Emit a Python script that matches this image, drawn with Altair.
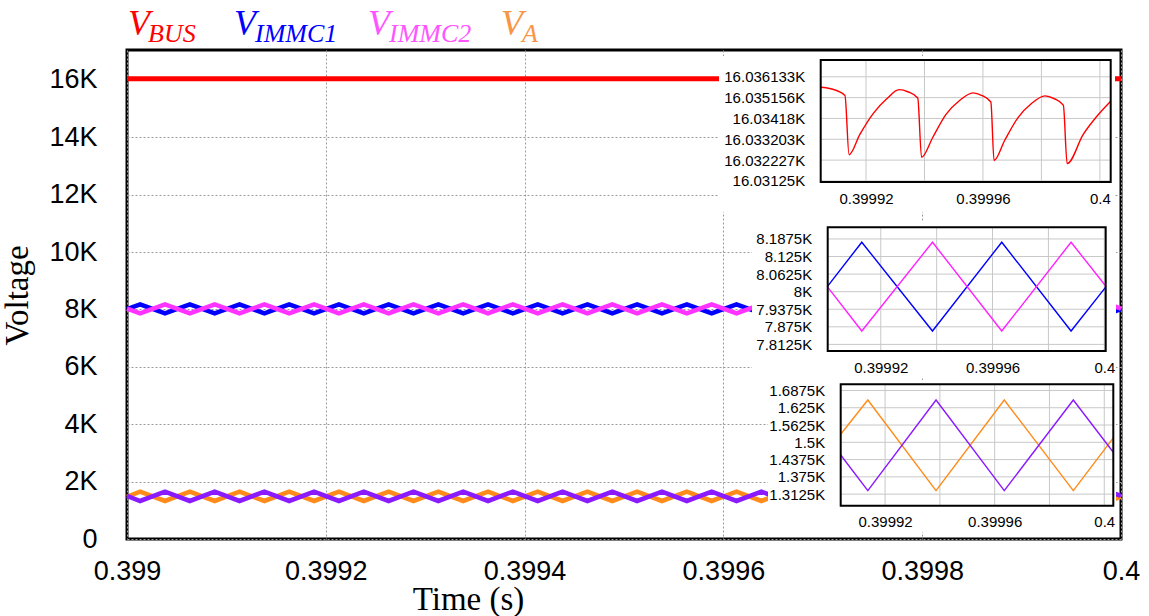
import altair as alt
import pandas as pd

# ---------------- main plot values ----------------
main_xticks = [0.399, 0.3992, 0.3994, 0.3996, 0.3998, 0.4]
main_yticks = [0, 2000, 4000, 6000, 8000, 10000, 12000, 14000, 16000]

bus_t = [0.399, 0.3995, 0.4]
bus_v = [16034, 16034, 16034]

main_t = [0.399,
          0.3990132, 0.3990382, 0.3990632, 0.3990882,
          0.3991132, 0.3991382, 0.3991632, 0.3991882,
          0.3992132, 0.3992382, 0.3992632, 0.3992882,
          0.3993132, 0.3993382, 0.3993632, 0.3993882,
          0.3994132, 0.3994382, 0.3994632, 0.3994882,
          0.3995132, 0.3995382, 0.3995632, 0.3995882,
          0.3996132, 0.3996382, 0.3996632, 0.3996882,
          0.3997132, 0.3997382, 0.3997632, 0.3997882,
          0.3998132, 0.3998382, 0.3998632, 0.3998882,
          0.3999132, 0.3999382, 0.3999632, 0.3999882,
          0.4]
immc1_v = [8009,
           8176, 7860, 8176, 7860, 8176, 7860, 8176, 7860,
           8176, 7860, 8176, 7860, 8176, 7860, 8176, 7860,
           8176, 7860, 8176, 7860, 8176, 7860, 8176, 7860,
           8176, 7860, 8176, 7860, 8176, 7860, 8176, 7860,
           8176, 7860, 8176, 7860, 8176, 7860, 8176, 7860,
           8009]
immc2_v = [8027,
           7860, 8176, 7860, 8176, 7860, 8176, 7860, 8176,
           7860, 8176, 7860, 8176, 7860, 8176, 7860, 8176,
           7860, 8176, 7860, 8176, 7860, 8176, 7860, 8176,
           7860, 8176, 7860, 8176, 7860, 8176, 7860, 8176,
           7860, 8176, 7860, 8176, 7860, 8176, 7860, 8176,
           8027]
va_v = [1473,
        1653, 1325, 1653, 1325, 1653, 1325, 1653, 1325,
        1653, 1325, 1653, 1325, 1653, 1325, 1653, 1325,
        1653, 1325, 1653, 1325, 1653, 1325, 1653, 1325,
        1653, 1325, 1653, 1325, 1653, 1325, 1653, 1325,
        1653, 1325, 1653, 1325, 1653, 1325, 1653, 1325,
        1473]
vb_v = [1505,
        1325, 1653, 1325, 1653, 1325, 1653, 1325, 1653,
        1325, 1653, 1325, 1653, 1325, 1653, 1325, 1653,
        1325, 1653, 1325, 1653, 1325, 1653, 1325, 1653,
        1325, 1653, 1325, 1653, 1325, 1653, 1325, 1653,
        1325, 1653, 1325, 1653, 1325, 1653, 1325, 1653,
        1505]

legend_main = ["V", "V", "V", "V"]
legend_sub = ["BUS", "IMMC1", "IMMC2", "A"]

# ---------------- inset values ----------------
inset_xlabels = [0.39992, 0.39996, 0.4]
inset_xgrid = [0.39992, 0.39994, 0.39996, 0.39998, 0.4]

ins1_t = [0.3999045, 0.3999083, 0.3999128, 0.3999142, 0.3999179, 0.3999225, 0.3999271,
          0.3999313, 0.3999345, 0.3999377, 0.3999390, 0.3999429, 0.3999473, 0.3999520,
          0.3999566, 0.3999597, 0.3999627, 0.3999638, 0.3999675, 0.3999720, 0.3999766,
          0.3999812, 0.3999843, 0.3999875, 0.3999888, 0.3999943, 0.3999989, 0.4000037]
ins1_v = [16035.64, 16035.56, 16035.26, 16032.48, 16033.43, 16034.42, 16035.10,
          16035.53, 16035.42, 16035.14, 16032.36, 16033.31, 16034.36, 16035.02,
          16035.38, 16035.25, 16034.95, 16032.21, 16033.17, 16034.22, 16034.88,
          16035.24, 16035.11, 16034.80, 16032.06, 16033.43, 16034.27, 16034.99]
ins1_yticks = [16031.25, 16032.2265625, 16033.203125, 16034.1796875, 16035.15625, 16036.1328125]

ins2_t = [0.399901, 0.3999132, 0.3999385, 0.3999633, 0.3999881, 0.4000005]
ins2_immc1 = [8020, 8176, 7860, 8176, 7860, 8016]
ins2_immc2 = [8016, 7860, 8176, 7860, 8176, 8020]
ins2_yticks = [7812.5, 7875, 7937.5, 8000, 8062.5, 8125, 8187.5]

ins3_t = [0.3999038, 0.3999137, 0.3999386, 0.3999635, 0.3999887, 0.4000033]
ins3_va = [1529, 1653, 1325, 1653, 1325, 1516]
ins3_vb = [1454, 1325, 1653, 1325, 1653, 1464]
ins3_yticks = [1312.5, 1375, 1437.5, 1500, 1562.5, 1625, 1687.5]

# ---------------- styling ----------------
RED = "#FF0000"
BLUE = "#0000FF"
PINK = "#FF33FF"
ORANGE = "#FF8C1A"
PURPLE = "#8A1AFF"
W, H = 994, 489


def main_xs():
    return alt.Scale(domain=[0.399, 0.4], nice=False, zero=False)


def main_ys():
    return alt.Scale(domain=[0, 17040], nice=False, zero=False)


main_x_axis = alt.Axis(
    orient="bottom", values=main_xticks, format="~g", labelFlush=False, labelOverlap=False,
    labelFontSize=27, labelPadding=19, labelFont="Liberation Sans", labelColor="black",
    ticks=False, domain=False,
    grid=True, gridDash=[2, 2], gridColor="#9a9a9a", gridWidth=1,
    title="Time (s)", titleFont="Liberation Serif", titleFontSize=33, titleFontWeight="normal",
    titleX=341, titleY=70, titleBaseline="alphabetic", titleAlign="center", titleColor="black")
main_y_axis = alt.Axis(
    orient="left", values=main_yticks,
    labelExpr="datum.value == 0 ? '0' : format(datum.value / 1000, '~g') + 'K'",
    labelFontSize=27, labelPadding=30, labelFont="Liberation Sans", labelColor="black",
    ticks=False, domain=False,
    grid=True, gridDash=[2, 2], gridColor="#9a9a9a", gridWidth=1,
    title="Voltage", titleFont="Liberation Serif", titleFontSize=33, titleFontWeight="normal",
    titleAngle=270, titleX=-100, titleY=245, titleBaseline="alphabetic", titleAlign="center",
    titleColor="black")


def main_line(t, v, color, width, with_axis=False):
    df = pd.DataFrame({"t": t, "v": v})
    enc_x = alt.X("t:Q", scale=main_xs(), axis=main_x_axis) if with_axis else \
        alt.X("t:Q", scale=main_xs(), axis=None)
    enc_y = alt.Y("v:Q", scale=main_ys(), axis=main_y_axis) if with_axis else \
        alt.Y("v:Q", scale=main_ys(), axis=None)
    return alt.Chart(df).mark_line(color=color, strokeWidth=width).encode(x=enc_x, y=enc_y)


def legend_item(i, color, vx, sx):
    v_txt = alt.Chart(pd.DataFrame({"s": [legend_main[i]]})).mark_text(
        align="left", baseline="alphabetic", font="Liberation Serif", fontStyle="italic",
        fontSize=36, color=color).encode(text="s:N", x=alt.value(vx), y=alt.value(-15))
    s_txt = alt.Chart(pd.DataFrame({"s": [legend_sub[i]]})).mark_text(
        align="left", baseline="alphabetic", font="Liberation Serif", fontStyle="italic",
        fontSize=26, color=color).encode(text="s:N", x=alt.value(sx), y=alt.value(-8))
    return [v_txt, s_txt]


units = [
    main_line(bus_t, bus_v, RED, 5, with_axis=True),
    main_line(main_t, immc1_v, BLUE, 4.5),
    main_line(main_t, immc2_v, PINK, 4.5),
    main_line(main_t, va_v, ORANGE, 4.5),
    main_line(main_t, vb_v, PURPLE, 4.5),
]
units += legend_item(0, RED, 1, 21)
units += legend_item(1, BLUE, 107, 128)
units += legend_item(2, "#FF55FF", 241, 262)
units += legend_item(3, "#F79646", 374, 395)


def inset(series, xdom, xrng, ydom, yrng, yticks, panel, interp):
    def xs():
        return alt.Scale(domain=xdom, range=xrng, nice=False, zero=False)

    def ys():
        return alt.Scale(domain=ydom, range=yrng, nice=False, zero=False)

    x_axis = alt.Axis(
        orient="bottom", offset=yrng[0] - H, values=inset_xlabels, format="~g",
        labelFlush=False, labelOverlap=False, labelFontSize=15, labelPadding=9,
        labelFont="Liberation Sans", labelColor="black",
        ticks=False, domain=False, grid=False, title="", zindex=1)
    y_axis = alt.Axis(
        orient="left", offset=-xrng[0], values=yticks,
        labelExpr="format(datum.value / 1000, '.8~g') + 'K'",
        labelFontSize=15, labelPadding=16, labelOverlap=False, labelFlush=False,
        labelFont="Liberation Sans", labelColor="black",
        ticks=False, domain=False, grid=False, title="", zindex=1)

    one = pd.DataFrame({"k": [0]})
    px0, px1, py0, py1 = panel
    out = []
    out.append(alt.Chart(one).mark_rect(fill="white", strokeWidth=0).encode(
        x=alt.value(px0), x2=alt.value(px1), y=alt.value(py0), y2=alt.value(py1)))
    out.append(alt.Chart(pd.DataFrame({"g": inset_xgrid})).mark_rule(
        color="#c8c8c8", strokeWidth=1).encode(
        x=alt.X("g:Q", scale=xs(), axis=None),
        y=alt.YDatum(ydom[0], type="quantitative", scale=ys(), axis=None),
        y2=alt.Y2Datum(ydom[1])))
    out.append(alt.Chart(pd.DataFrame({"g": yticks})).mark_rule(
        color="#c8c8c8", strokeWidth=1).encode(
        y=alt.Y("g:Q", scale=ys(), axis=None),
        x=alt.XDatum(xdom[0], type="quantitative", scale=xs(), axis=None),
        x2=alt.X2Datum(xdom[1])))
    for j, (t, v, color) in enumerate(series):
        df = pd.DataFrame({"t": t, "v": v})
        if j == 0:
            ex = alt.X("t:Q", scale=xs(), axis=x_axis)
            ey = alt.Y("v:Q", scale=ys(), axis=y_axis)
        else:
            ex = alt.X("t:Q", scale=xs(), axis=None)
            ey = alt.Y("v:Q", scale=ys(), axis=None)
        out.append(alt.Chart(df).mark_line(color=color, strokeWidth=1.4,
                                           interpolate=interp).encode(x=ex, y=ey))
    out.append(alt.Chart(one).mark_rect(filled=False, stroke="black", strokeWidth=2).encode(
        x=alt.XDatum(xdom[0], type="quantitative", scale=xs(), axis=None),
        x2=alt.X2Datum(xdom[1]),
        y=alt.YDatum(ydom[0], type="quantitative", scale=ys(), axis=None),
        y2=alt.Y2Datum(ydom[1])))
    return out


units += inset([(ins1_t, ins1_v, RED)],
               [0.3999045, 0.4000037], [693.7, 983.7],
               [16031.20, 16036.92], [132, 10], ins1_yticks,
               (592, 988, 6, 162), "monotone")
units += inset([(ins2_t, ins2_immc1, BLUE), (ins2_t, ins2_immc2, "#FF22FF")],
               [0.399901, 0.4000005], [700.7, 978.7],
               [7789, 8229], [301, 177.3], ins2_yticks,
               (625, 989, 172, 328), "linear")
units += inset([(ins3_t, ins3_va, ORANGE), (ins3_t, ins3_vb, PURPLE)],
               [0.3999038, 0.4000033], [713.7, 986.3],
               [1270.7, 1709.8], [455.7, 334.3], ins3_yticks,
               (641, 989, 330, 482), "linear")

chart = alt.layer(*units).resolve_scale(
    x="independent", y="independent"
).resolve_axis(
    x="independent", y="independent"
).properties(
    width=W, height=H,
    padding={"left": 127, "top": 50, "right": 28, "bottom": 77},
    autosize=alt.AutoSizeParams(type="none"),
).configure_view(stroke="black", strokeWidth=3)

chart.save("out.html", embed_options={"renderer": "svg", "actions": False})
